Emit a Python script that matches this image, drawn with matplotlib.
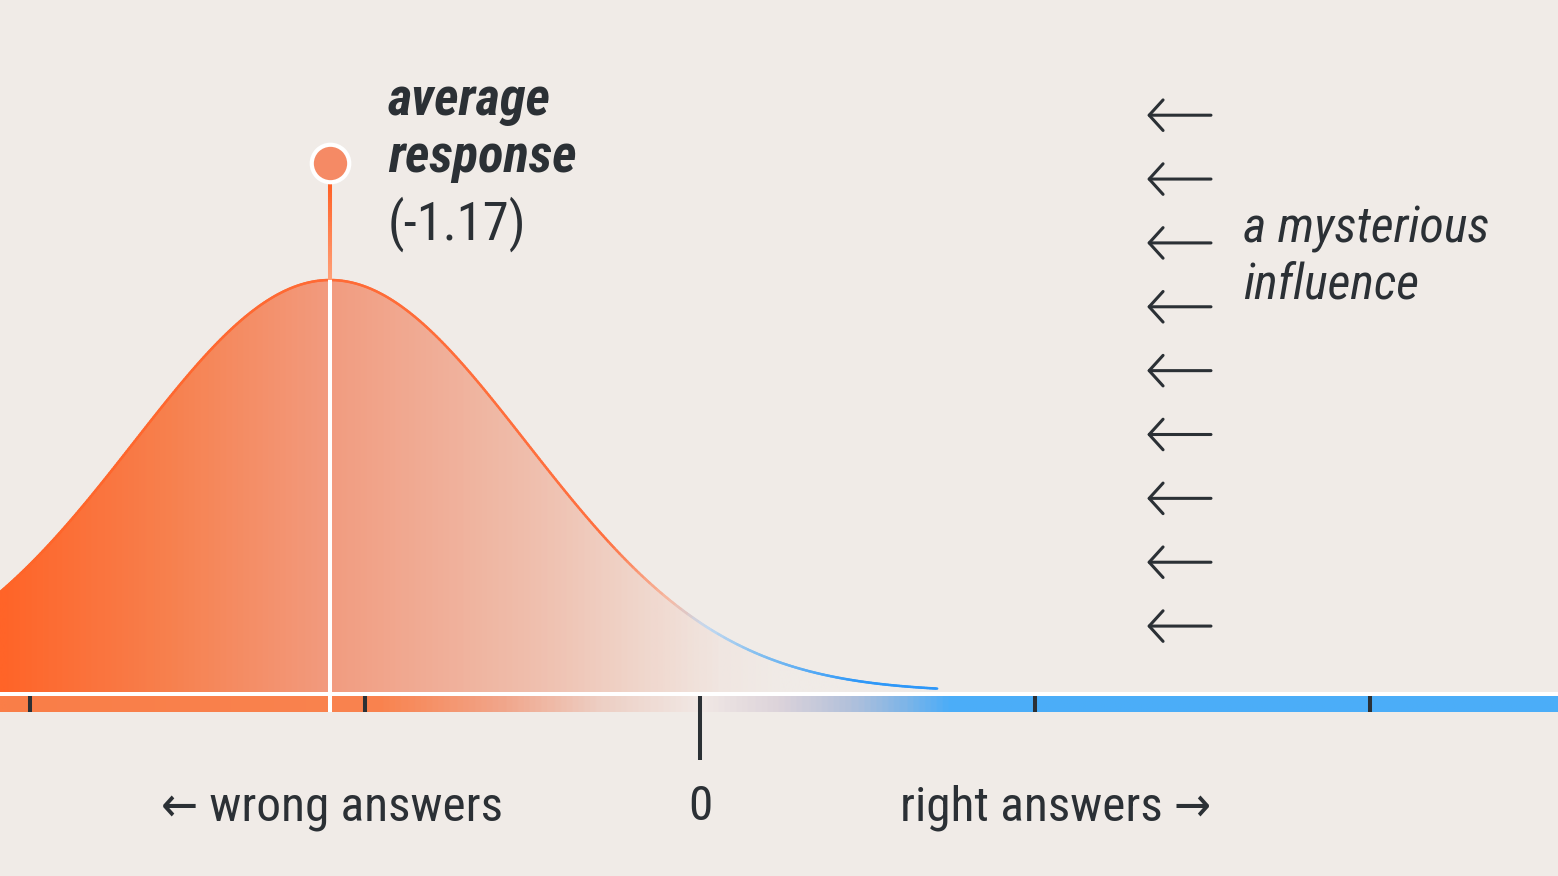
import numpy as np
import matplotlib
matplotlib.use('Agg')
import matplotlib.pyplot as plt
from matplotlib.colors import LinearSegmentedColormap
from matplotlib.collections import LineCollection
from matplotlib.patches import Polygon

# ---- data ----
mean = -1.17          # average response
sd = 0.62             # spread of the bell curve
curve_end = 0.75      # right end of the drawn curve
minor_ticks = [-2.12, -1.06, 1.06, 2.12]
arrow_levels = [1.40, 1.245, 1.09, 0.935, 0.78, 0.625, 0.47, 0.315, 0.16]
arrow_x = (1.414, 1.616)   # head, tail

bg = '#F0EBE7'
ink = '#2B3035'

# figure maps 316.2 px per x unit, 412 px per y unit (peak = 1)
xlim = (-700 / 316.2, 858 / 316.2)
ylim = (-184 / 412, 692 / 412)

plt.rcParams['font.family'] = ['Roboto Condensed', 'DejaVu Sans']
plt.rcParams['font.stretch'] = 'condensed'

fig = plt.figure(figsize=(15.58, 8.76), dpi=100, facecolor=bg)
ax = fig.add_axes([0, 0, 1, 1])
ax.set_facecolor(bg)
ax.axis('off')


def cmap_from(stops):
    span = xlim[1] - xlim[0]
    return LinearSegmentedColormap.from_list(
        'g', [((p - xlim[0]) / span, c) for p, c in stops])


fill_cmap = cmap_from([(xlim[0], '#FF6428'), (-1.676, '#F7814F'), (mean, '#F29C80'),
                       (-0.506, '#EFC0AF'), (-0.158, '#F0D8CE'), (0.063, '#F0E6E1'),
                       (0.253, bg), (xlim[1], bg)])
band_cmap = cmap_from([(xlim[0], '#FA7E48'), (-1.012, '#F9834F'), (-0.633, '#F1A58A'),
                       (-0.316, '#EDCFC4'), (0.0, '#F1E8E5'), (0.253, '#DCD3DA'),
                       (0.474, '#B3C1DB'), (0.633, '#84B6E6'), (0.791, '#4CADF8'),
                       (xlim[1], '#4BAEF8')])
line_cmap = cmap_from([(xlim[0], '#FF6428'), (-0.3, '#FF7040'), (-0.1, '#F6B9A2'),
                       (0.02, '#C4D9F0'), (0.2, '#7FBDF0'), (0.5, '#2F98F8'),
                       (xlim[1], '#1A8CFF')])

# bell curve
xs = np.linspace(xlim[0], curve_end, 600)
ys = np.exp(-0.5 * ((xs - mean) / sd) ** 2)

grad = np.linspace(0, 1, 800)[None, :]
verts = np.vstack([np.column_stack([xs, ys]), [[curve_end, 0], [xlim[0], 0]]])
clip = Polygon(verts, closed=True, fc='none', ec='none')
ax.add_patch(clip)
img = ax.imshow(grad, cmap=fill_cmap, extent=[xlim[0], xlim[1], 0, 1.05],
                aspect='auto', interpolation='bilinear', zorder=1)
img.set_clip_path(clip)

pts = np.column_stack([xs, ys]).reshape(-1, 1, 2)
segs = np.concatenate([pts[:-1], pts[1:]], axis=1)
mids = (xs[:-1] + xs[1:]) / 2
lc = LineCollection(segs, colors=line_cmap((mids - xlim[0]) / (xlim[1] - xlim[0])),
                    linewidths=1.8, zorder=3, capstyle='round')
ax.add_collection(lc)

# baseline band
ax.axhspan(-4 / 412, 0, color='white', lw=0, zorder=4)
ax.imshow(grad, cmap=band_cmap, extent=[xlim[0], xlim[1], -20 / 412, -4 / 412],
          aspect='auto', interpolation='bilinear', zorder=4)
for t in minor_ticks:
    ax.plot([t, t], [-20 / 412, -4 / 412], color=ink, lw=2.9,
            solid_capstyle='butt', zorder=5)
ax.plot([0, 0], [-68 / 412, -4 / 412], color=ink, lw=2.9,
        solid_capstyle='butt', zorder=5)

# mean marker
ax.plot([mean, mean], [-20 / 412, 1.0], color='white', lw=2.9,
        solid_capstyle='butt', zorder=6)
dot_y = 1.284
sy = np.linspace(1.0, dot_y, 60)
stem_pts = np.column_stack([np.full_like(sy, mean), sy]).reshape(-1, 1, 2)
stem_segs = np.concatenate([stem_pts[:-1], stem_pts[1:]], axis=1)
stem_cmap = LinearSegmentedColormap.from_list('s', ['#FFA078', '#FF5314'])
ax.add_collection(LineCollection(stem_segs, colors=stem_cmap(np.linspace(0, 1, 59)),
                                 linewidths=2.9, zorder=6))
ax.plot([mean], [dot_y], 'o', ms=27, mfc='#F58A65', mec='white', mew=3, zorder=7)

# labels
ax.text(-0.987, 1.400, 'average', fontsize=38, fontweight=900, fontstyle='italic',
        color=ink, va='baseline', ha='left')
ax.text(-0.987, 1.262, 'response', fontsize=38, fontweight=900, fontstyle='italic',
        color=ink, va='baseline', ha='left')
ax.text(-0.987, 1.097, f'({mean:.2f})', fontsize=38, color=ink, va='baseline', ha='left')

for lv in arrow_levels:
    ax.annotate('', xy=(arrow_x[0], lv), xytext=(arrow_x[1], lv),
                arrowprops=dict(arrowstyle='->,head_length=0.5,head_width=0.55',
                                color=ink, lw=2.2, shrinkA=0, shrinkB=0,
                                mutation_scale=20), zorder=5)
ax.text(1.717, 1.090, 'a mysterious', fontsize=36, fontstyle='italic', color=ink,
        va='baseline', ha='left')
ax.text(1.717, 0.954, 'influence', fontsize=36, fontstyle='italic', color=ink,
        va='baseline', ha='left')

ax.text(-1.164, -0.311, '\u2190 wrong answers', fontsize=35.5, color=ink,
        va='baseline', ha='center')
ax.text(0, -0.311, '0', fontsize=35.5, color=ink, va='baseline', ha='center')
ax.text(1.126, -0.311, 'right answers \u2192', fontsize=35.5, color=ink,
        va='baseline', ha='center')

ax.set_xlim(*xlim)
ax.set_ylim(*ylim)

fig.savefig('out.png', dpi=100, facecolor=bg)
